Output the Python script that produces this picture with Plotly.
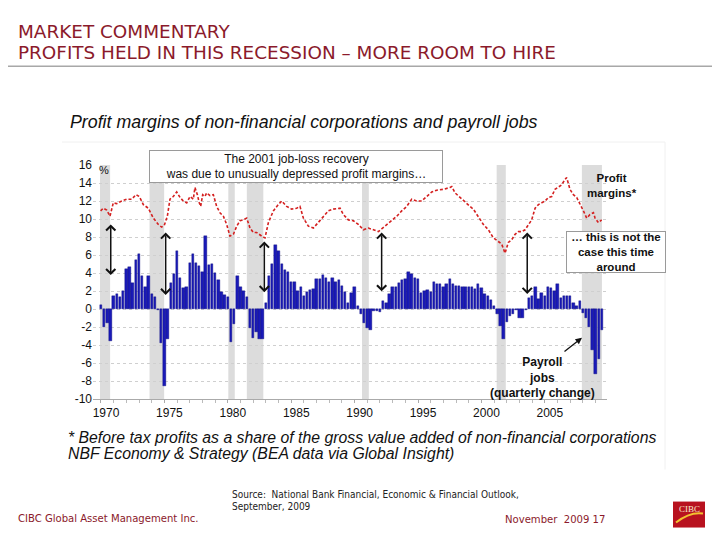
import plotly.graph_objects as go

# ---------------- data ----------------
first_quarter = 1970.0  # 1970Q1, quarterly bars
payroll_jobs = [
    0.4, -2.0, -1.6, -3.5, 1.4, 1.7, 1.3, 2.0, 4.5, 4.7,
    2.9, 5.4, 6.1, 3.7, 2.4, 3.7, 1.7, 1.3, -0.1, -3.8,
    -8.6, -3.3, 2.9, 3.9, 6.4, 3.4, 2.3, 2.4, 5.1, 6.1,
    5.1, 4.8, 4.1, 8.1, 4.9, 5.0, 4.0, 3.2, 1.9, 1.6,
    1.3, -3.7, -1.7, 3.7, 2.4, 2.0, 1.3, -2.1, -3.2, -2.5,
    -3.3, -3.3, 0.7, 3.7, 5.0, 7.1, 6.4, 5.0, 4.3, 4.1,
    3.0, 3.0, 2.0, 2.5, 1.5, 1.9, 2.1, 2.2, 3.3, 3.3,
    3.8, 3.4, 3.0, 3.4, 3.0, 3.2, 2.6, 1.9, 0.7, 1.8,
    2.4, 0.3, -0.6, -1.5, -2.1, -2.3, -0.2, -0.2, -0.3, 0.9,
    0.7, 1.7, 2.5, 2.4, 2.9, 3.2, 3.3, 4.1, 3.9, 3.5,
    3.3, 1.8, 2.0, 2.1, 1.9, 3.0, 2.8, 2.8, 2.4, 2.8,
    3.3, 2.8, 2.6, 2.6, 2.4, 2.5, 2.5, 2.4, 2.2, 2.8,
    2.3, 1.7, 1.4, 1.0, 0.3, -0.6, -1.9, -3.3, -1.4, -0.8,
    -0.5, -0.1, -1.0, -1.0, -0.1, 1.2, 1.4, 2.5, 1.1, 1.8,
    1.4, 2.4, 2.3, 2.0, 2.8, 1.2, 1.4, 1.5, 1.4, 0.7,
    0.3, 0.9, -0.4, -1.0, -2.0, -4.5, -7.2, -5.6, -2.3,
]

margin_years = [
    1969.97, 1970.18, 1970.45, 1970.71, 1970.97, 1971.24, 1971.63, 1972.02, 1972.42, 1972.76,
    1973.02, 1973.34, 1973.73, 1974.13, 1974.52, 1974.78, 1974.99, 1975.23, 1975.44, 1975.70,
    1975.97, 1976.23, 1976.49, 1976.76, 1977.02, 1977.28, 1977.41, 1977.60, 1977.75, 1977.86,
    1978.02, 1978.20, 1978.33, 1978.60, 1978.86, 1979.12, 1979.38, 1979.65, 1979.91, 1980.17,
    1980.44, 1980.70, 1980.96, 1981.22, 1981.49, 1981.75, 1982.01, 1982.28, 1982.67, 1982.93,
    1983.20, 1983.59, 1983.98, 1984.25, 1984.64, 1985.04, 1985.43, 1985.69, 1985.96, 1986.35,
    1986.75, 1987.14, 1987.53, 1987.93, 1988.32, 1988.85, 1989.11, 1989.51, 1989.90, 1990.29,
    1990.69, 1991.08, 1991.48, 1991.87, 1992.13, 1992.53, 1992.92, 1993.32, 1993.71, 1994.11,
    1994.50, 1994.89, 1995.29, 1995.68, 1996.08, 1996.47, 1997.00, 1997.52, 1997.66, 1997.92,
    1998.31, 1998.71, 1999.10, 1999.36, 1999.76, 2000.15, 2000.55, 2000.94, 2001.33, 2001.60,
    2001.86, 2002.12, 2002.39, 2002.65, 2002.91, 2003.18, 2003.44, 2003.70, 2003.96, 2004.23,
    2004.49, 2004.75, 2005.02, 2005.28, 2005.54, 2005.80, 2006.07, 2006.33, 2006.59, 2006.72,
    2006.98, 2007.25, 2007.51, 2007.81, 2008.04, 2008.30, 2008.56, 2008.83, 2008.96, 2009.22,
    2009.48,
]
margin_values = [
    10.9, 11.2, 11.0, 10.3, 11.8, 11.7, 12.0, 12.2, 12.2, 12.7,
    12.5, 11.6, 11.2, 10.1, 9.4, 9.1, 9.3, 10.3, 12.2, 12.5,
    13.0, 12.4, 12.0, 11.8, 12.5, 12.2, 13.5, 12.7, 11.8, 11.4,
    12.7, 12.5, 12.9, 12.6, 12.7, 11.4, 10.7, 10.3, 9.4, 8.1,
    8.3, 9.2, 9.8, 9.9, 10.1, 9.0, 8.5, 8.5, 8.1, 7.9,
    9.6, 10.9, 11.6, 12.0, 11.4, 11.1, 11.2, 11.4, 10.1, 9.2,
    9.0, 9.6, 10.3, 10.9, 11.1, 11.2, 10.5, 9.9, 9.8, 9.4,
    8.8, 9.0, 8.8, 8.6, 8.9, 9.4, 9.8, 10.3, 10.9, 11.4,
    12.2, 12.0, 12.0, 12.5, 13.0, 13.2, 13.3, 13.5, 13.6, 12.9,
    12.4, 11.8, 11.4, 11.1, 10.3, 9.4, 8.8, 7.9, 7.5, 7.2,
    6.2, 7.4, 7.7, 8.3, 8.6, 8.6, 8.8, 9.3, 9.9, 11.2,
    11.6, 11.8, 12.0, 12.4, 12.5, 13.3, 13.6, 13.8, 14.4, 14.6,
    13.3, 12.7, 12.4, 11.6, 10.9, 10.1, 10.5, 10.7, 10.1, 9.6,
    9.9,
]

recession_starts = [1969.92, 1973.83, 1980.04, 1981.50, 1990.58, 2001.20, 2007.92]
recession_ends = [1970.72, 1974.98, 1980.55, 1982.80, 1991.12, 2001.92, 2009.50]

# gap between margins and jobs (year, margin level, job level)
gap_years = [1970.77, 1975.10, 1982.88, 1992.13, 2003.61]
gap_top = [9.4, 8.5, 7.5, 8.5, 8.5]
gap_bottom = [3.6, 1.4, 1.7, 1.8, 1.5]

x_tick_years = [1970, 1975, 1980, 1985, 1990, 1995, 2000, 2005]
y_tick_values = list(range(-10, 17, 2))

# ---------------- layout helpers ----------------
OFF = 8                     # page body margin of the html page
W, H = 720 - 2 * OFF, 540 - 2 * OFF
PL, PR, PT, PB = 93, 607, 165, 399.3   # plot area in page pixels
ARIAL = "Liberation Sans, Arial, sans-serif"
TAHOMA = "DejaVu Sans, Verdana, sans-serif"
TAHOMA_C = "DejaVu Sans Condensed, DejaVu Sans, sans-serif"
DARKRED = "#8b1a2b"


def pxx(x):
    return (x - PL) / (PR - PL)


def pxy(y):
    return (PB - y) / (PB - PT)


bar_x = [first_quarter + i / 4 for i in range(len(payroll_jobs))]

fig = go.Figure()
fig.add_trace(go.Bar(
    x=bar_x, y=payroll_jobs, width=0.19,
    marker=dict(color="#1a1ab8", line=dict(color="#0a0a78", width=0.4)),
    showlegend=False,
))
fig.add_trace(go.Scatter(
    x=margin_years, y=margin_values, mode="lines",
    line=dict(color="#d42020", width=1.6, dash="3px,2px"),
    showlegend=False,
))

shapes = []
for s, e in zip(recession_starts, recession_ends):
    shapes.append(dict(type="rect", xref="x", yref="y", x0=s, x1=e, y0=-10, y1=16,
                       fillcolor="#dcdcdc", line=dict(width=0), layer="below"))
# header rule
shapes.append(dict(type="line", xref="paper", yref="paper", x0=pxx(0), x1=pxx(720),
                   y0=pxy(66), y1=pxy(66), line=dict(color="#a8a8a8", width=1.5)))
# faint frame of embedded chart
shapes.append(dict(type="line", xref="paper", yref="paper", x0=pxx(62), x1=pxx(665),
                   y0=pxy(142), y1=pxy(142), line=dict(color="#f0f0f0", width=1), layer="below"))
shapes.append(dict(type="line", xref="paper", yref="paper", x0=pxx(665), x1=pxx(665),
                   y0=pxy(142), y1=pxy(470), line=dict(color="#f0f0f0", width=1), layer="below"))
# logo
shapes.append(dict(type="rect", xref="paper", yref="paper", x0=pxx(673), x1=pxx(705),
                   y0=pxy(528), y1=pxy(502), fillcolor="#b8121f", line=dict(width=0)))
shapes.append(dict(type="path", xref="paper", yref="paper",
                   path="M {},{} Q {},{} {},{}".format(pxx(676), pxy(523), pxx(690), pxy(512), pxx(703), pxy(514)),
                   line=dict(color="#f2c230", width=2)))

ann = []
for gx, t, b in zip(gap_years, gap_top, gap_bottom):
    ann.append(dict(x=gx, y=t, ax=gx, ay=b, xref="x", yref="y", axref="x", ayref="y",
                    text="", showarrow=True, arrowhead=4, startarrowhead=4,
                    arrowside="end+start", arrowsize=1.2, startarrowsize=1.2,
                    arrowwidth=1.5, arrowcolor="#111111", standoff=0, startstandoff=0))
# payroll pointer arrow
ann.append(dict(x=2007.93, y=-3.2, ax=2006.43, ay=-4.85, xref="x", yref="y",
                axref="x", ayref="y", text="", showarrow=True, arrowhead=2,
                arrowsize=1, arrowwidth=1.3, arrowcolor="#111111"))


def txt(text, x, y, size, color="#111111", family=ARIAL, xanchor="left", yanchor="middle",
        align="left", **kw):
    d = dict(text=text, x=pxx(x), y=pxy(y), xref="paper", yref="paper", showarrow=False,
             xanchor=xanchor, yanchor=yanchor, align=align,
             font=dict(size=size, color=color, family=family))
    d.update(kw)
    ann.append(d)


txt("MARKET COMMENTARY", 16, 31, 18.4, DARKRED, TAHOMA)
txt("PROFITS HELD IN THIS RECESSION \u2013 MORE ROOM TO HIRE", 16, 52, 18.4, DARKRED, TAHOMA)
txt("<i>Profit margins of non-financial corporations and payroll jobs</i>", 68, 122, 17.8)
txt("%", 104, 170, 11, xanchor="center")
txt("The 2001 job-loss recovery<br>was due to unusually depressed profit margins\u2026",
    296, 166.5, 12, xanchor="center", align="center", bgcolor="#ffffff",
    bordercolor="#9a9a9a", borderwidth=1, borderpad=1, width=290, height=29)
txt("<b>Profit<br>margins*</b>", 612, 186, 11.5, xanchor="center", align="center")
txt("<b>\u2026 this is not the<br>case this time<br>around</b>", 615.5, 252.5, 11.5,
    xanchor="center", align="center", bgcolor="#ffffff", bordercolor="#9a9a9a",
    borderwidth=1, borderpad=1, width=96, height=38)
txt("<b>Payroll<br>jobs<br>(quarterly change)</b>", 542, 378, 12, xanchor="center", align="center")
txt("<i>* Before tax profits as a share of the gross value added of non-financial corporations</i>",
    66, 438, 15.8)
txt("<i>NBF Economy & Strategy (BEA data via Global Insight)</i>", 66, 454, 15.8)
txt("Source:  National Bank Financial, Economic & Financial Outlook,", 230, 495, 10, "#222222", TAHOMA_C)
txt("September, 2009", 230, 507, 10, "#222222", TAHOMA_C)
txt("CIBC Global Asset Management Inc.", 16, 519, 11.2, DARKRED, TAHOMA_C)
txt("November  2009 17", 503, 520, 11.2, DARKRED, TAHOMA_C)
txt("CIBC", 689, 509, 9, "#f7e8cc", "Liberation Serif, serif", xanchor="center")

fig.update_layout(
    width=W, height=H, autosize=False,
    margin=dict(l=PL - OFF, r=W - (PR - OFF), t=PT - OFF, b=H - (PB - OFF)),
    paper_bgcolor="#ffffff", plot_bgcolor="#ffffff",
    bargap=0, shapes=shapes, annotations=ann,
    xaxis=dict(range=[1969.37, 2009.9], tickmode="array", tickvals=x_tick_years,
               ticktext=[str(v) for v in x_tick_years], ticks="outside", ticklen=3,
               tickcolor="#aaaaaa", showline=True, linecolor="#aaaaaa", linewidth=1,
               showgrid=False, zeroline=False, ticklabelshift=5,
               tickfont=dict(family=ARIAL, size=12, color="#111111"),
               minor=dict(dtick=1, ticks="outside", ticklen=3, tickcolor="#bbbbbb")),
    yaxis=dict(range=[-10, 16], tickmode="array", tickvals=y_tick_values,
               ticktext=[str(v) for v in y_tick_values], ticks="", showline=False,
               showgrid=True, gridcolor="#cfcfcf", griddash="dot", gridwidth=1,
               zeroline=False, tickfont=dict(family=ARIAL, size=12, color="#111111")),
)

fig.write_html("out.html")
